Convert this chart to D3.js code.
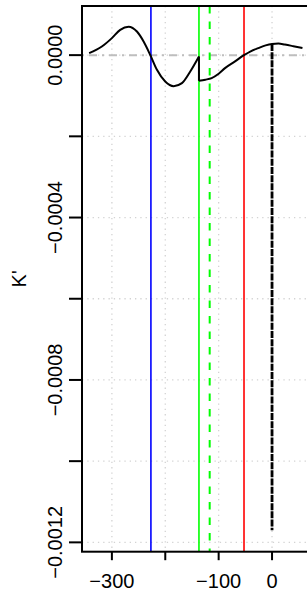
<!DOCTYPE html>
<html lang="en">
  <head>
    <meta charset="utf-8">
    <title>K'</title>
    <style>
      body { margin: 0; background: #fff; }
      text { font-family: "Liberation Sans", Arial, sans-serif; }
    </style>
    <script src="https://cdn.jsdelivr.net/npm/d3@7"></script>
  </head>
  <body>
    <div id="viz"></div>
    <script>

    // curve, first piece (before the jump)
    var seg1X = [-342.6, -318.8, -300, -284.4, -268.7, -253.1, -240.6, -228.2, -215.6, -200.1, -184.3, -168.8, -153.2, -136.9];
    var seg1Y = [4.9e-6, 21.2e-6, 41.9e-6, 62.3e-6, 70.0e-6, 58.1e-6, 33.5e-6, 0.5e-6, -36.2e-6, -65.0e-6, -76.5e-6, -69.0e-6, -40.4e-6, -3.4e-6];
    // curve, second piece (after the jump)
    var seg2X = [-136.9, -125, -113.1, -100, -88.1, -70, -52.5, -40, -25.7, -12, 0, 12, 24, 40, 57];
    var seg2Y = [-63.3e-6, -60.5e-6, -56.6e-6, -46e-6, -32.0e-6, -16e-6, 0, 9.5e-6, 17.2e-6, 24e-6, 27.5e-6, 28.5e-6, 26e-6, 22e-6, 17.5e-6];

    var vlineX = [-226.9, -136.9, -116.8, -52.5];
    var vlineColor = ['#0000ff', '#00ff00', '#00ff00', '#ff0000'];
    var vlineDash = [null, null, '7.5,8', null];

    var dropX = 0, dropTop = 27.5e-6, dropBottom = -0.00117;

    var xTicks = [-300, -200, -100, 0];
    var xLabels = ['\u2212300', '', '\u2212100', '0'];
    var yTicks = [0, -0.0002, -0.0004, -0.0006, -0.0008, -0.0010, -0.0012];
    var yLabels = ['0.0000', '', '\u22120.0004', '', '\u22120.0008', '', '\u22120.0012'];

    var W = 307, H = 592;
    var L = 82, R = 311, T = 6, B = 551.7;

    var svg = d3.select('#viz').append('svg')
        .attr('width', W).attr('height', H);

    var x = d3.scaleLinear().domain([-356, 73]).range([L, R]);
    var y = d3.scaleLinear().domain([0.000121, -0.001223]).range([T, B]);

    // grid
    svg.append('g').selectAll('line').data(xTicks).enter().append('line')
        .attr('x1', function(d) { return x(d); }).attr('x2', function(d) { return x(d); })
        .attr('y1', T).attr('y2', B)
        .attr('stroke', '#d3d3d3').attr('stroke-width', 1.3)
        .attr('stroke-dasharray', '1.3,4');
    svg.append('g').selectAll('line').data(yTicks).enter().append('line')
        .attr('y1', function(d) { return y(d); }).attr('y2', function(d) { return y(d); })
        .attr('x1', L).attr('x2', R)
        .attr('stroke', '#d3d3d3').attr('stroke-width', 1.3)
        .attr('stroke-dasharray', '1.3,4');

    // zero line
    svg.append('line')
        .attr('x1', L).attr('x2', R)
        .attr('y1', y(0)).attr('y2', y(0))
        .attr('stroke', '#bebebe').attr('stroke-width', 2)
        .attr('stroke-dasharray', '2,5,8,5');

    // vertical markers
    svg.append('g').selectAll('line').data(vlineX).enter().append('line')
        .attr('x1', function(d) { return x(d); }).attr('x2', function(d) { return x(d); })
        .attr('y1', T).attr('y2', B)
        .attr('stroke', function(d, i) { return vlineColor[i]; })
        .attr('stroke-width', function(d, i) { return vlineDash[i] ? 2 : 1.6; })
        .attr('stroke-dasharray', function(d, i) { return vlineDash[i]; });

    // black dashed drop at 0
    svg.append('line')
        .attr('x1', x(dropX)).attr('x2', x(dropX))
        .attr('y1', y(dropTop)).attr('y2', y(dropBottom))
        .attr('stroke', '#000').attr('stroke-width', 2.8)
        .attr('stroke-dasharray', '7,1.2');

    // curve
    var line = d3.line()
        .x(function(d) { return x(d[0]); })
        .y(function(d) { return y(d[1]); })
        .curve(d3.curveMonotoneX);
    var seg1 = seg1X.map(function(v, i) { return [v, seg1Y[i]]; });
    var seg2 = seg2X.map(function(v, i) { return [v, seg2Y[i]]; });
    [seg1, seg2].forEach(function(s) {
      svg.append('path').attr('d', line(s))
        .attr('fill', 'none').attr('stroke', '#000').attr('stroke-width', 2);
    });
    // the jump
    svg.append('line')
        .attr('x1', x(seg1X[seg1X.length - 1])).attr('x2', x(seg2X[0]))
        .attr('y1', y(seg1Y[seg1Y.length - 1])).attr('y2', y(seg2Y[0]))
        .attr('stroke', '#000').attr('stroke-width', 2);

    // box
    svg.append('rect')
        .attr('x', L).attr('y', T).attr('width', R - L).attr('height', B - T)
        .attr('fill', 'none').attr('stroke', '#000').attr('stroke-width', 2);

    // y axis ticks + labels
    var ya = svg.append('g');
    ya.selectAll('line').data(yTicks).enter().append('line')
        .attr('x1', L - 13).attr('x2', L)
        .attr('y1', function(d) { return y(d); }).attr('y2', function(d) { return y(d); })
        .attr('stroke', '#000').attr('stroke-width', 2);
    ya.selectAll('text').data(yTicks).enter().append('text')
        .attr('transform', function(d) { return 'translate(61.7,' + y(d) + ') rotate(-90)'; })
        .attr('text-anchor', 'middle')
        .style('font-size', '20px')
        .text(function(d, i) { return yLabels[i]; });

    // x axis ticks + labels
    var xa = svg.append('g');
    xa.selectAll('line').data(xTicks).enter().append('line')
        .attr('x1', function(d) { return x(d); }).attr('x2', function(d) { return x(d); })
        .attr('y1', B).attr('y2', B + 8.5)
        .attr('stroke', '#000').attr('stroke-width', 2);
    xa.selectAll('text').data(xTicks).enter().append('text')
        .attr('x', function(d) { return x(d); }).attr('y', 588)
        .attr('text-anchor', 'middle')
        .style('font-size', '20px')
        .text(function(d, i) { return xLabels[i]; });

    // y title
    svg.append('text')
        .attr('transform', 'translate(26,' + ((T + B) / 2) + ') rotate(-90)')
        .attr('text-anchor', 'middle')
        .style('font-size', '20px')
        .text("K'");
    </script>
  </body>
</html>
